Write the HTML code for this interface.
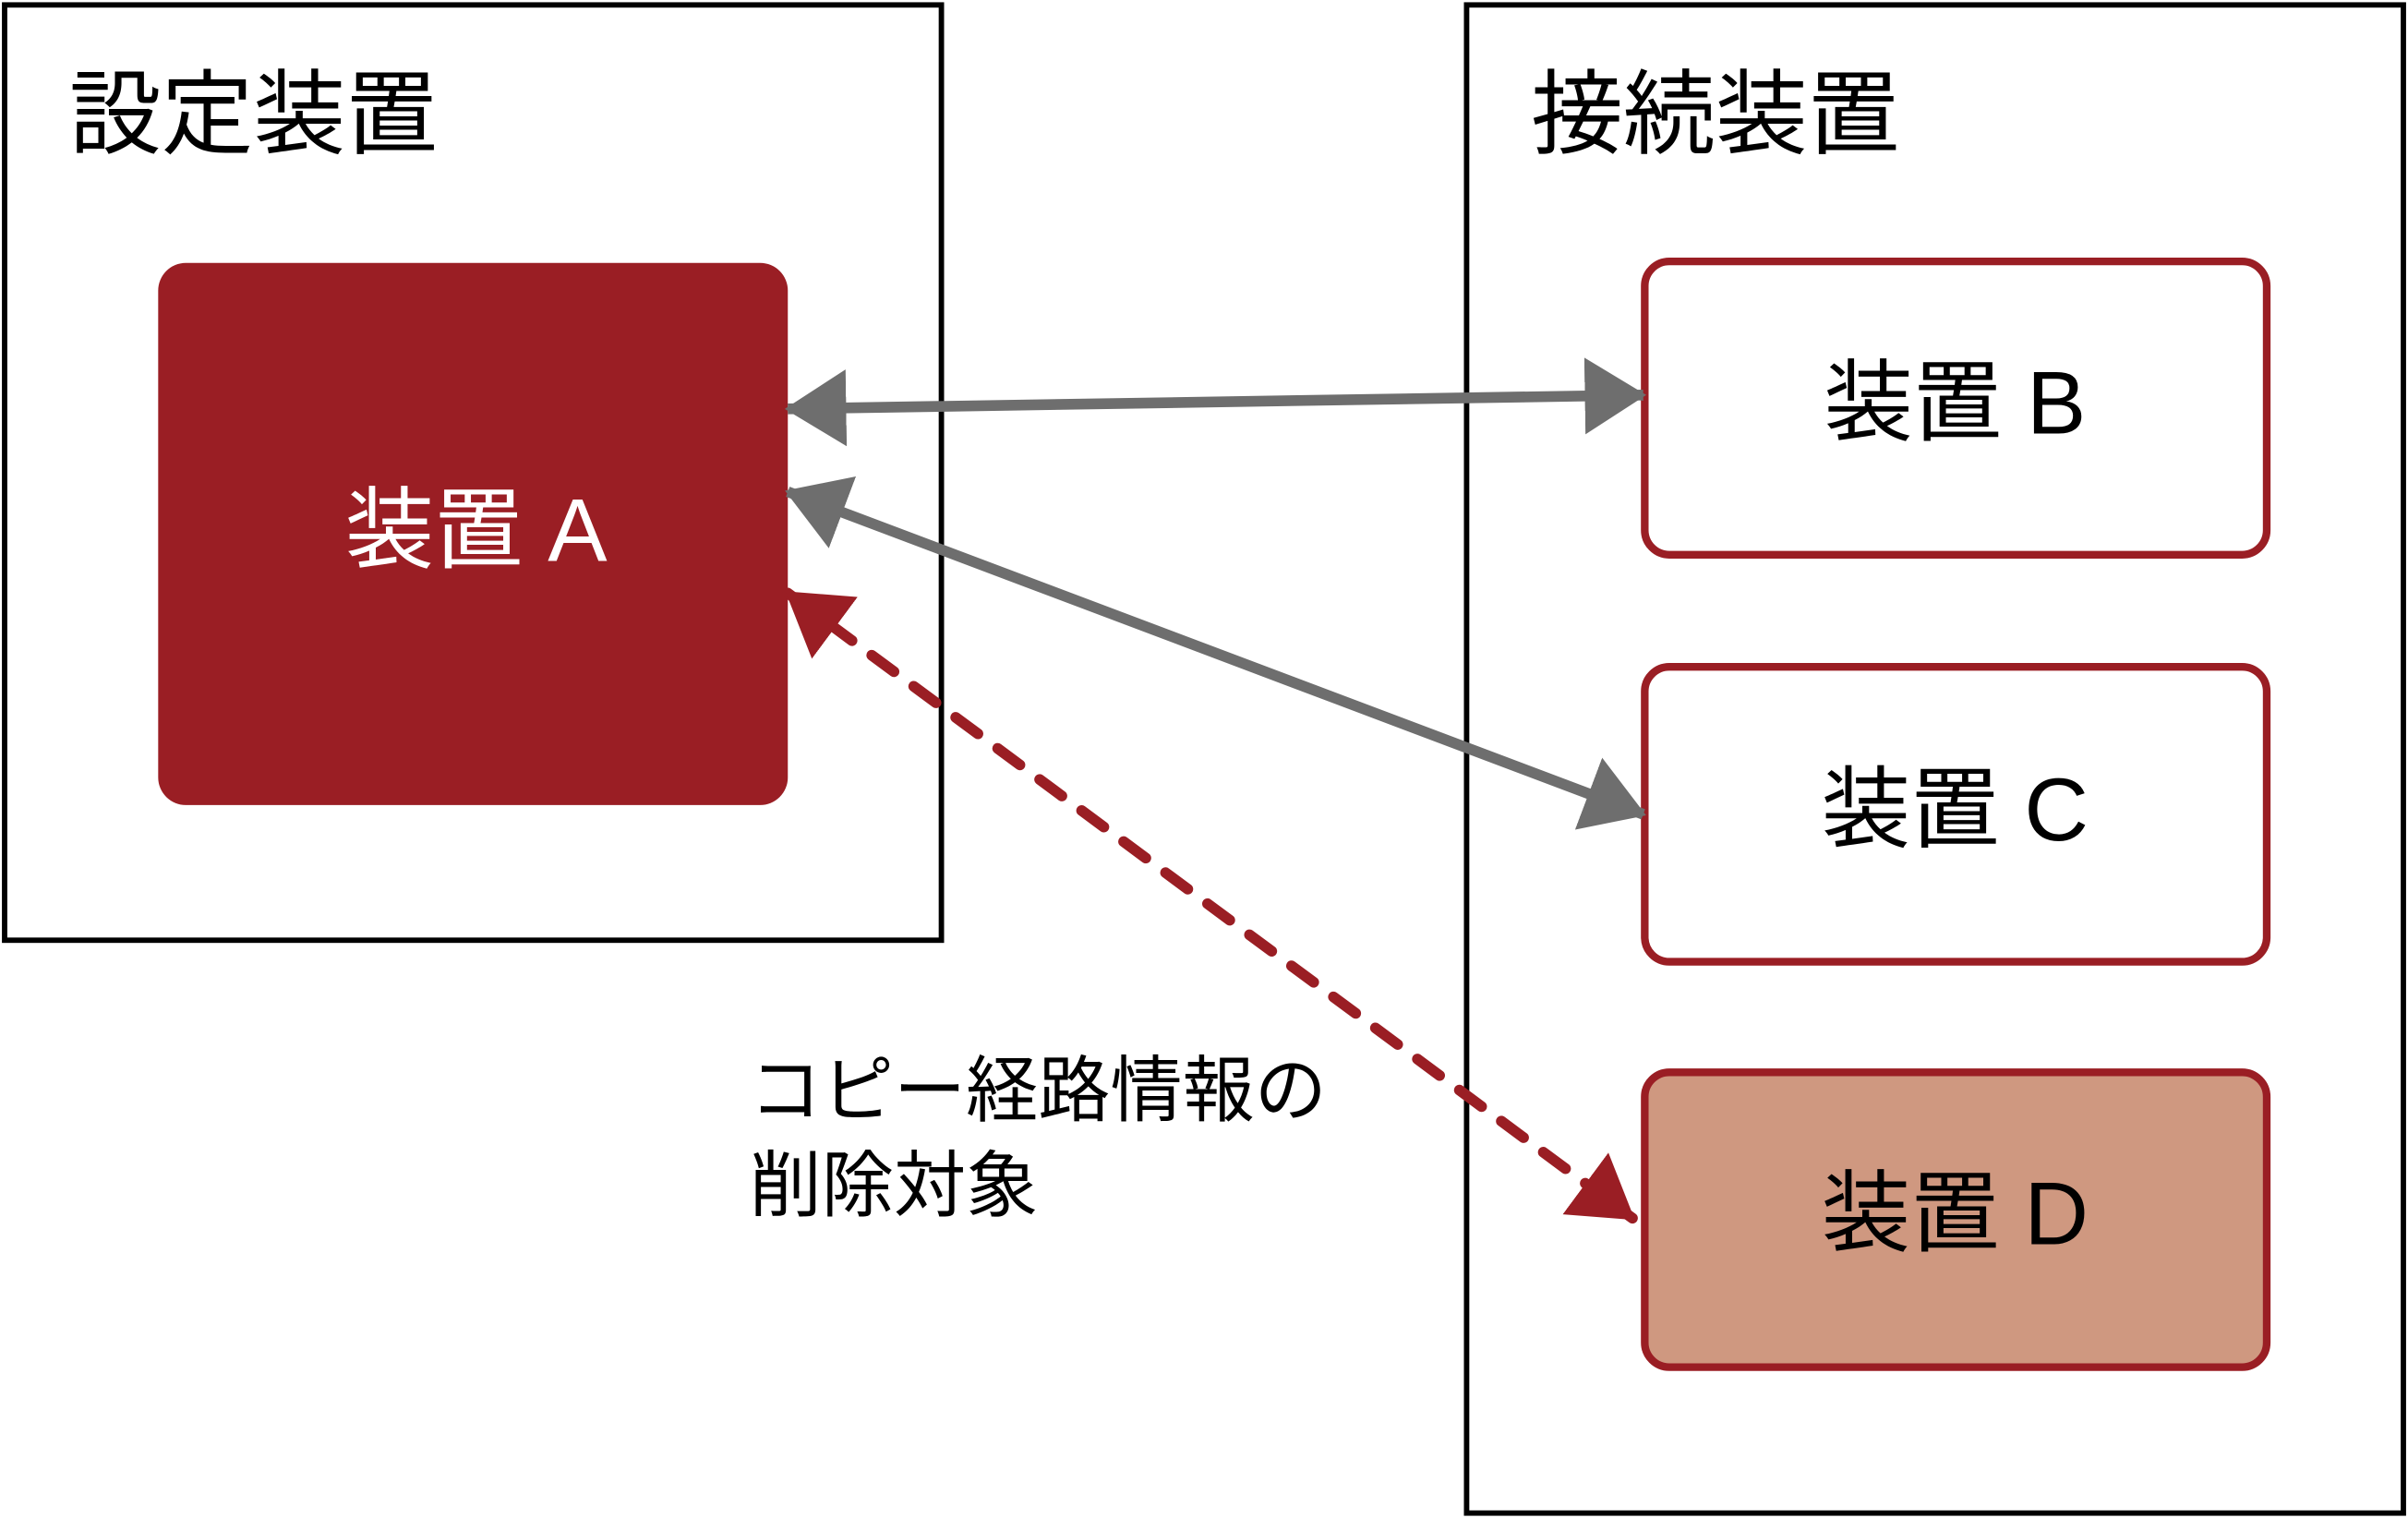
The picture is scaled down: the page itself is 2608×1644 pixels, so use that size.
<!DOCTYPE html>
<html><head><meta charset="utf-8"><style>
html,body{margin:0;padding:0;background:#fff;}
svg{display:block;}
text{font-family:"Liberation Sans","Noto Sans CJK JP",sans-serif;}
</style></head><body>
<svg width="2608" height="1644" viewBox="0 0 1568 988" xmlns="http://www.w3.org/2000/svg">
<defs>
<marker id="g" markerUnits="userSpaceOnUse" markerWidth="40" markerHeight="50" refX="38" refY="25" orient="auto-start-reverse">
<path d="M0,0 L40,25 L0,50 z" fill="#6e6e6e"/></marker>
<marker id="r" markerUnits="userSpaceOnUse" markerWidth="40" markerHeight="50" refX="38" refY="25" orient="auto-start-reverse">
<path d="M0,0 L40,25 L0,50 z" fill="#9a1e24"/></marker>
</defs>
<rect x="3" y="3" width="610" height="609" fill="none" stroke="#000" stroke-width="3.5"/>
<rect x="955" y="3" width="610" height="982" fill="none" stroke="#000" stroke-width="3.5"/>
<text x="45" y="95" font-size="60" fill="#000">設定装置</text>
<text x="997" y="95" font-size="60" fill="#000">接続装置</text>
<rect x="103" y="171" width="410" height="353" rx="18" fill="#9a1e24"/>
<text x="310" y="365" font-size="58" fill="#fff" text-anchor="middle">装置 A</text>
<rect x="1071" y="170" width="405" height="191" rx="16" fill="#fff" stroke="#9a1e24" stroke-width="5"/>
<text x="1273" y="282" font-size="58" fill="#000" text-anchor="middle">装置 B</text>
<rect x="1071" y="434" width="405" height="192" rx="16" fill="#fff" stroke="#9a1e24" stroke-width="5"/>
<text x="1273" y="547" font-size="58" fill="#000" text-anchor="middle">装置 C</text>
<rect x="1071" y="698" width="405" height="192" rx="16" fill="#cf9880" stroke="#9a1e24" stroke-width="5"/>
<text x="1273" y="810" font-size="58" fill="#000" text-anchor="middle">装置 D</text>
<line x1="513" y1="266" x2="1070" y2="257" stroke="#6e6e6e" stroke-width="7" marker-start="url(#g)" marker-end="url(#g)"/>
<line x1="513" y1="320" x2="1070" y2="530" stroke="#6e6e6e" stroke-width="7" marker-start="url(#g)" marker-end="url(#g)"/>
<line x1="513" y1="386" x2="1063" y2="793" stroke="#9a1e24" stroke-width="7" stroke-dasharray="18 16" stroke-linecap="round" marker-start="url(#r)" marker-end="url(#r)"/>
<text x="488" y="726" font-size="47" fill="#000">コピー経路情報の</text>
<text x="488" y="788" font-size="47" fill="#000">削除対象</text>
</svg>
</body></html>
